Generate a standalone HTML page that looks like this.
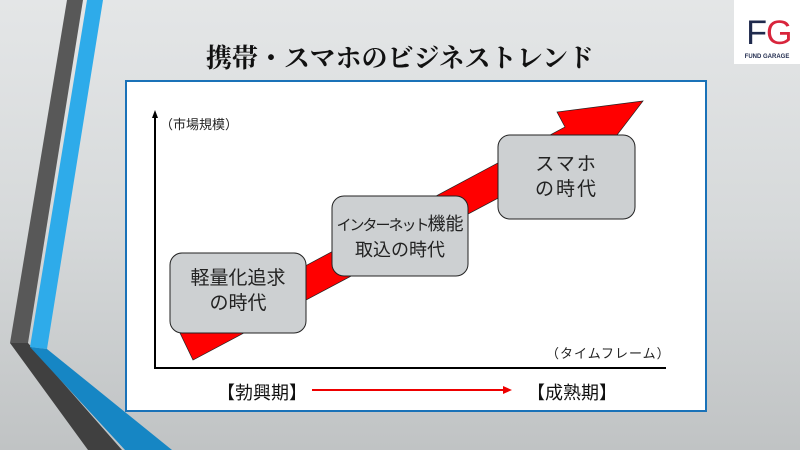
<!DOCTYPE html>
<html><head><meta charset="utf-8"><style>
body{margin:0;width:800px;height:450px;overflow:hidden;position:relative;background:linear-gradient(180deg,#e4e6e7 0%,#d6d9da 50%,#c0c3c4 100%);font-family:"Liberation Sans","Noto Sans CJK JP",sans-serif;}
.t{position:absolute;white-space:nowrap;}
</style></head><body>
<svg width="800" height="450" style="position:absolute;left:0;top:0">
<polygon points="67,0 83,0 28,343 10,343" fill="#585858"/>
<polygon points="10,343 28,343 122,450 88,450" fill="#404040"/>
<polygon points="87,0 103,0 47,349 30,347" fill="#2eabea"/>
<polygon points="30,347 47,349 172,450 125,450" fill="#1686c4"/>
<rect x="734" y="0" width="66" height="64" fill="#fff"/>
<text x="767" y="44" font-family="Liberation Sans,sans-serif" font-size="34" text-anchor="end" fill="#1f2a4d">F</text>
<text x="766" y="44" font-family="Liberation Sans,sans-serif" font-size="34" fill="#d8253c">G</text>
<text x="767" y="58" font-family="Liberation Sans,sans-serif" font-size="6" font-weight="bold" text-anchor="middle" fill="#1f2a4d">FUND GARAGE</text>
<rect x="126" y="81" width="580" height="330" fill="#fff" stroke="#1a72b8" stroke-width="2"/>
<polygon points="180,333 565,127 557,112 643,101 617,135 193,360" fill="#ff0000" stroke="#222" stroke-width="0.7"/>
<line x1="155" y1="368" x2="155" y2="115" stroke="#000" stroke-width="2"/>
<polygon points="155,110 152,118 158,118" fill="#000"/>
<line x1="154" y1="368" x2="666" y2="368" stroke="#000" stroke-width="2"/>
<rect x="170" y="253" width="136" height="80" rx="12" fill="#cdd0d2" stroke="#222" stroke-width="1"/>
<rect x="332" y="196" width="136" height="80" rx="12" fill="#cdd0d2" stroke="#222" stroke-width="1"/>
<rect x="498" y="135" width="137" height="84" rx="12" fill="#cdd0d2" stroke="#222" stroke-width="1"/>
<line x1="312" y1="390" x2="505" y2="390" stroke="#e00" stroke-width="2"/>
<polygon points="512,390 503,386 503,394" fill="#e00"/>
</svg>
<div class="t" style="left:0;width:800px;top:38px;text-align:center;font-family:'Liberation Serif','Noto Serif CJK SC',serif;font-weight:bold;font-size:26px;color:#111;">携帯・スマホのビジネストレンド</div>
<div class="t" style="left:160px;top:114px;font-size:13px;color:#222;">（市場規模）</div>
<div class="t" style="left:546px;top:343px;font-size:13px;color:#222;letter-spacing:1px;">（タイムフレーム）</div>
<div class="t" style="left:170px;width:136px;top:266px;text-align:center;font-size:19px;line-height:25px;color:#222;">軽量化追求<br>の時代</div>
<div class="t" style="left:332px;width:136px;top:212px;text-align:center;font-size:18px;line-height:25px;color:#222;"><span style="font-size:15px;letter-spacing:-2px">インターネット</span>機能<br>取込の時代</div>
<div class="t" style="left:498px;width:137px;top:152px;text-align:center;font-size:19px;line-height:25px;color:#222;letter-spacing:2px;">スマホ<br>の時代</div>
<div class="t" style="left:217px;top:379px;font-size:18px;color:#111;">【勃興期】</div>
<div class="t" style="left:527px;top:379px;font-size:18px;color:#111;">【成熟期】</div>
</body></html>
